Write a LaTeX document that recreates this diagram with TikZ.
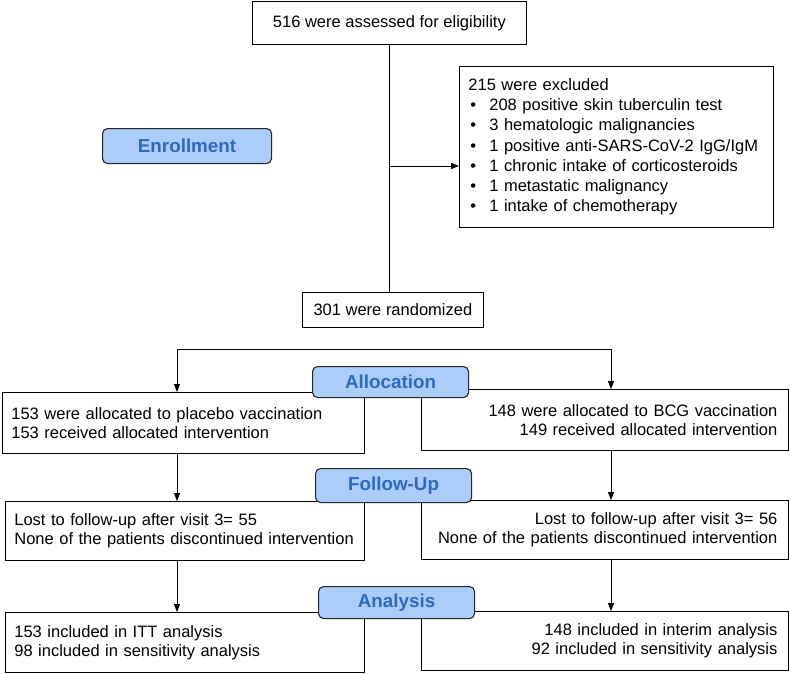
\documentclass[tikz,border=0pt]{standalone}
\usepackage{fontspec}
\setmainfont{Liberation Sans}
\usetikzlibrary{arrows.meta}
\definecolor{lblfill}{RGB}{172,205,250}
\definecolor{lbltext}{RGB}{46,106,185}
\newcommand\exbul{\makebox[21pt][l]{\hspace*{2pt}\textbullet}}
\begin{document}
\begin{tikzpicture}[x=1pt,y=-1pt,
  txt/.style={font=\fontsize{16.5}{19.5}\selectfont},
  box/.style={txt,draw,line width=0.8pt,rectangle,anchor=north west,inner ysep=0pt},
  lbox/.style={box,align=left,inner xsep=9pt},
  rbox/.style={box,align=right,inner xsep=11pt},
  lbl/.style={draw=black!85,line width=1.1pt,rounded corners=5pt,fill=lblfill,text=lbltext,
    font=\bfseries\fontsize{18.8}{20}\selectfont,inner sep=0pt,anchor=north west},
  arr/.style={-{Triangle[length=8pt,width=6pt]},line width=0.8pt},
  arrb/.style={{Triangle[length=8pt,width=6pt]}-{Triangle[length=8pt,width=6pt]},line width=0.8pt}]
\useasboundingbox (0,0) rectangle (790,673);
% boxes
\node[box,minimum width=274pt,minimum height=43pt] (top) at (252,1) {516 were assessed for eligibility};
\node[lbox,minimum width=314pt,minimum height=161pt,text width=296pt,
  font=\fontsize{16.5}{20.2}\selectfont] (excl) at (459,66) {215 were excluded\\
\exbul 208 positive skin tuberculin test\\
\exbul 3 hematologic malignancies\\
\exbul 1 positive anti-SARS-CoV-2 IgG/IgM\\
\exbul 1 chronic intake of corticosteroids\\
\exbul 1 metastatic malignancy\\
\exbul 1 intake of chemotherapy};
\node[box,minimum width=181pt,minimum height=35pt] (rand) at (302,292) {301 were randomized};
\node[lbox,minimum width=362pt,minimum height=61pt,text width=344pt] (la) at (2,392)
  {153 were allocated to placebo vaccination\\153 received allocated intervention};
\node[rbox,minimum width=367pt,minimum height=61pt,text width=345pt] (ra) at (421,389)
  {148 were allocated to BCG vaccination\\149 received allocated intervention};
\node[lbox,minimum width=359pt,minimum height=59pt,text width=341pt,
  font=\fontsize{16.5}{19}\selectfont] (fl) at (5,501)
  {Lost to follow-up after visit 3= 55\\None of the patients discontinued intervention};
\node[rbox,minimum width=367pt,minimum height=59pt,text width=345pt,
  font=\fontsize{16.5}{19}\selectfont] (fr) at (421,500)
  {Lost to follow-up after visit 3= 56\\None of the patients discontinued intervention};
\node[lbox,minimum width=359pt,minimum height=60pt,text width=341pt,
  font=\fontsize{16.5}{19}\selectfont] (nl) at (5,612)
  {153 included in ITT analysis\\98 included in sensitivity analysis};
\node[rbox,minimum width=367pt,minimum height=59pt,text width=345pt,
  font=\fontsize{16.5}{19}\selectfont] (nr) at (421,611)
  {148 included in interim analysis\\92 included in sensitivity analysis};
% connectors
\coordinate (ex) at (389,166);
\coordinate (bl) at (177,349);
\coordinate (br) at (611,349);
\draw[line width=0.8pt] (top.south) -- (top.south |- rand.north);
\draw[arr] (ex) -- (ex -| excl.west);
\draw[arrb] (la.north -| bl) -- (bl) -- (br) -- (ra.north -| br);
\draw[arr] (la.south -| bl) -- (fl.north -| bl);
\draw[arr] (ra.south -| br) -- (fr.north -| br);
\draw[arr] (fl.south -| bl) -- (nl.north -| bl);
\draw[arr] (fr.south -| br) -- (nr.north -| br);
% phase labels
\node[lbl,minimum width=169pt,minimum height=35pt] (enr) at (102,128) {Enrollment};
\node[lbl,minimum width=156pt,minimum height=31pt] (alc) at (312,366) {Allocation};
\node[lbl,minimum width=156pt,minimum height=34pt] (fup) at (315,468) {Follow-Up};
\node[lbl,minimum width=156pt,minimum height=32pt] (ana) at (318,586) {Analysis};
\end{tikzpicture}
\end{document}
